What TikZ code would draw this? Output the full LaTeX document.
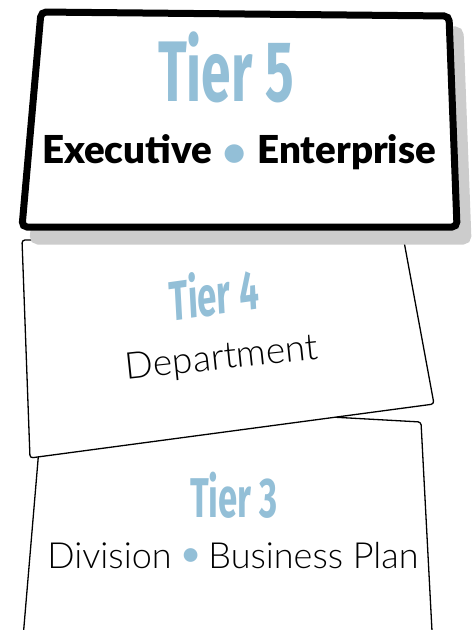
\documentclass[tikz,border=0pt]{standalone}
\usepackage{fontspec}
\setmainfont{Lato}
\newfontfamily\lightfont{Lato Light}
\newfontfamily\heavyfont{Lato Black}
\newfontfamily\tierfont{Fira Sans}
\definecolor{tierblue}{HTML}{93BFD7}
\definecolor{shadowgray}{HTML}{CCCCCC}
\newcommand{\bluedot}[1]{\textcolor{tierblue}{\raisebox{-0.1ex}{\scalebox{#1}{•}}}}

\begin{document}
\begin{tikzpicture}[x=1pt,y=-1pt,
    card/.style={draw=black,fill=white,line width=1.3pt,rounded corners=3pt},
    topcard/.style={draw=black,fill=white,line width=7pt,rounded corners=5pt},
    tiername/.style={text=tierblue,inner sep=0pt,anchor=base,xscale=0.62,
      font=\tierfont\bfseries\fontsize{#1pt}{#1pt}\selectfont},
    tiertext/.style={inner sep=0pt,anchor=base,font=\lightfont\fontsize{#1pt}{#1pt}\selectfont}]
  \useasboundingbox (0,0) rectangle (474,630);
  \clip (0,0) rectangle (474,630);
  % tier 3 (runs off the bottom)
  \draw[card] (43,401) -- (421,422) -- (433,650) -- (22,650) -- cycle;
  % tier 4
  \draw[card] (22,240) -- (403,236) -- (434,404) -- (30,458) -- cycle;
  % tier 5 with its shadow
  \begin{scope}[shift={(11,14)}]
    \filldraw[shadowgray,line width=7pt,rounded corners=5pt] (41,12) -- (449,16) -- (457,227) -- (22,227) -- cycle;
  \end{scope}
  \draw[topcard] (41,12) -- (449,16) -- (457,227) -- (22,227) -- cycle;

  \node[tiername=86] (t5) at (226,101) {Tier 5};
  \node[inner sep=0pt,anchor=base,font=\heavyfont\fontsize{38.5pt}{38.5pt}\selectfont] (exec) at (239,163) {Executive\hspace{0.3em}\bluedot{1}\hspace{0.3em}Enterprise};

  \node[tiername=56,rotate=5] (t4) at (215,315) {Tier 4};
  \node[tiertext=37,rotate=6] (dept) at (223,369) {Department};

  \node[tiername=56] (t3) at (234,517) {Tier 3};
  \node[tiertext=36] (div) at (233,568) {Division\hspace{0.15em}\bluedot{1.3}\hspace{0.12em}Business Plan};
\end{tikzpicture}
\end{document}
